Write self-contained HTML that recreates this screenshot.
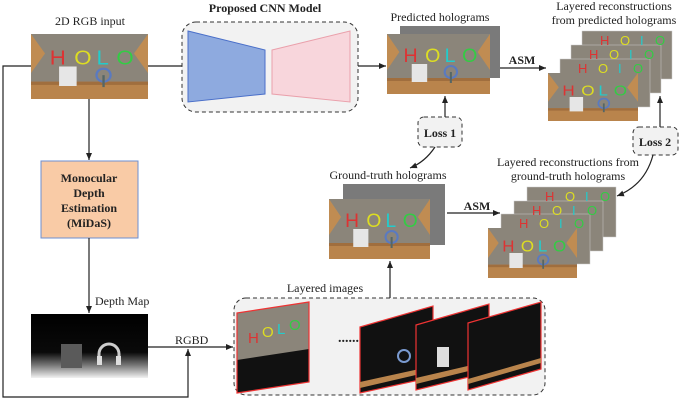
<!DOCTYPE html>
<html><head><meta charset="utf-8"><style>
html,body{margin:0;padding:0;background:#fff;}
svg{display:block;font-family:"Liberation Serif",serif;}
</style></head><body>
<svg width="685" height="405" viewBox="0 0 685 405" xmlns="http://www.w3.org/2000/svg">
<defs>
<marker id="ah" markerWidth="8" markerHeight="8" refX="7" refY="4" orient="auto" markerUnits="userSpaceOnUse">
<path d="M0,1 L7,4 L0,7 z" fill="#222"/></marker>
<linearGradient id="dg" x1="0" y1="0" x2="0" y2="1">
<stop offset="0" stop-color="#000"/><stop offset="0.6" stop-color="#0a0a0a"/><stop offset="0.8" stop-color="#777"/><stop offset="1" stop-color="#f2f2f2"/></linearGradient>
</defs>

<text x="90" y="25" font-size="12" text-anchor="middle" fill="#222">2D RGB input</text>
<text x="265" y="12" font-size="12" font-weight="bold" text-anchor="middle" fill="#222">Proposed CNN Model</text>
<text x="440" y="21" font-size="12" text-anchor="middle" fill="#222">Predicted holograms</text>
<text x="614" y="10" font-size="12" text-anchor="middle" fill="#222">Layered reconstructions</text>
<text x="614" y="24" font-size="12" text-anchor="middle" fill="#222">from predicted holograms</text>
<text x="388" y="179" font-size="12" text-anchor="middle" fill="#222">Ground-truth holograms</text>
<text x="568" y="166" font-size="12" text-anchor="middle" fill="#222">Layered reconstructions from</text>
<text x="568" y="180" font-size="12" text-anchor="middle" fill="#222">ground-truth holograms</text>
<text x="95" y="305" font-size="12" fill="#222">Depth Map</text>
<text x="175" y="344" font-size="12" fill="#222">RGBD</text>
<text x="325" y="292" font-size="12" text-anchor="middle" fill="#222">Layered images</text>
<text x="522" y="64" font-size="12" font-weight="bold" text-anchor="middle" fill="#222">ASM</text>
<text x="477" y="210" font-size="12" font-weight="bold" text-anchor="middle" fill="#222">ASM</text>

<rect x="182" y="22" width="176" height="90" rx="14" fill="#f2f2f2" stroke="#333" stroke-dasharray="4,3"/>
<polygon points="188,31 265,50 265,94 188,102" fill="#8eaadf" stroke="#4a6fc9"/>
<polygon points="272,50 350,31 350,102 272,94" fill="#f8d6dc" stroke="#eaa0ab"/>

<rect x="418" y="117" width="44" height="30" rx="6" fill="#f2f2f2" stroke="#333" stroke-dasharray="4,3"/>
<text x="440" y="137" font-size="12" font-weight="bold" text-anchor="middle" fill="#222">Loss 1</text>
<rect x="633" y="127" width="45" height="28" rx="6" fill="#f2f2f2" stroke="#333" stroke-dasharray="4,3"/>
<text x="655" y="146" font-size="12" font-weight="bold" text-anchor="middle" fill="#222">Loss 2</text>

<rect x="41" y="161" width="97" height="77" fill="#f9cba6" stroke="#6d8fd0"/>
<g font-size="12" font-weight="bold" text-anchor="middle" fill="#222">
<text x="89" y="182">Monocular</text><text x="89" y="197">Depth</text>
<text x="89" y="212">Estimation</text><text x="89" y="227">(MiDaS)</text></g>

<rect x="234" y="298" width="311" height="97" rx="12" fill="#f2f2f2" stroke="#333" stroke-dasharray="4,3"/>

<g stroke="#222" stroke-width="1.2" fill="none">
<line x1="148" y1="66" x2="182" y2="66"/>
<line x1="358" y1="66" x2="386" y2="66" marker-end="url(#ah)"/>
<line x1="500" y1="68" x2="546" y2="68" marker-end="url(#ah)"/>
<line x1="445" y1="117" x2="445" y2="96" marker-end="url(#ah)"/>
<path d="M435,147 Q425,162 410,168" marker-end="url(#ah)"/>
<line x1="660" y1="127" x2="660" y2="96" marker-end="url(#ah)"/>
<path d="M653,155 Q645,185 617,196" marker-end="url(#ah)"/>
<line x1="447" y1="213" x2="500" y2="213" marker-end="url(#ah)"/>
<line x1="89" y1="99" x2="89" y2="160" marker-end="url(#ah)"/>
<line x1="89" y1="238" x2="89" y2="313" marker-end="url(#ah)"/>
<line x1="148" y1="347" x2="233" y2="347" marker-end="url(#ah)"/>
<polyline points="31,66 3,66 3,397 188,397 188,349" marker-end="url(#ah)"/>
<line x1="390" y1="298" x2="390" y2="261" marker-end="url(#ah)"/>
</g>

<rect x="400" y="26" width="100" height="52" fill="#7a7a7a"/>
<rect x="343" y="184" width="102" height="61" fill="#7a7a7a"/>

<svg x="31" y="34" width="117" height="65" viewBox="0 0 100 60" preserveAspectRatio="none">
<rect width="100" height="60" fill="#8b857a"/><polygon points="0,0 12,18 0,36" fill="#c08c52"/><polygon points="100,0 88,18 100,36" fill="#c08c52"/>
<rect y="44" width="100" height="16" fill="#b9844c"/><rect y="44" width="100" height="3" fill="#a06e3e"/>
<g font-family="Liberation Sans,sans-serif" font-size="19"><text x="16" y="28" fill="#d33">H</text><text x="37" y="28" fill="#dd2">O</text><text x="56" y="28" fill="#2cc">L</text><text x="73" y="28" fill="#3c4">O</text></g>
<rect x="24" y="30" width="15" height="18" fill="#e6e6e6"/><circle cx="62" cy="38" r="6" fill="none" stroke="#5a7ac0" stroke-width="2"/><rect x="61" y="38" width="2" height="11" fill="#566"/></svg>

<svg x="387" y="34" width="103" height="60" viewBox="0 0 100 60" preserveAspectRatio="none">
<rect width="100" height="60" fill="#8b857a"/><polygon points="0,0 12,18 0,36" fill="#c08c52"/><polygon points="100,0 88,18 100,36" fill="#c08c52"/>
<rect y="44" width="100" height="16" fill="#b9844c"/><rect y="44" width="100" height="3" fill="#a06e3e"/>
<g font-family="Liberation Sans,sans-serif" font-size="19"><text x="16" y="28" fill="#d33">H</text><text x="37" y="28" fill="#dd2">O</text><text x="56" y="28" fill="#2cc">L</text><text x="73" y="28" fill="#3c4">O</text></g>
<rect x="24" y="30" width="15" height="18" fill="#e6e6e6"/><circle cx="62" cy="38" r="6" fill="none" stroke="#5a7ac0" stroke-width="2"/><rect x="61" y="38" width="2" height="11" fill="#566"/></svg>

<svg x="329" y="199" width="101" height="60" viewBox="0 0 100 60" preserveAspectRatio="none">
<rect width="100" height="60" fill="#8b857a"/><polygon points="0,0 12,18 0,36" fill="#c08c52"/><polygon points="100,0 88,18 100,36" fill="#c08c52"/>
<rect y="44" width="100" height="16" fill="#b9844c"/><rect y="44" width="100" height="3" fill="#a06e3e"/>
<g font-family="Liberation Sans,sans-serif" font-size="19"><text x="16" y="28" fill="#d33">H</text><text x="37" y="28" fill="#dd2">O</text><text x="56" y="28" fill="#2cc">L</text><text x="73" y="28" fill="#3c4">O</text></g>
<rect x="24" y="30" width="15" height="18" fill="#e6e6e6"/><circle cx="62" cy="38" r="6" fill="none" stroke="#5a7ac0" stroke-width="2"/><rect x="61" y="38" width="2" height="11" fill="#566"/></svg>

<g stroke="#ccc" stroke-width="0.5">
<rect x="582" y="31" width="90" height="48" fill="#8b857a"/>
<rect x="571" y="45" width="90" height="48" fill="#8b857a"/>
<rect x="560" y="59" width="90" height="48" fill="#8b857a"/>
<rect x="527" y="187" width="89" height="50" fill="#8b857a"/>
<rect x="514" y="201" width="89" height="50" fill="#8b857a"/>
<rect x="501" y="214" width="89" height="50" fill="#8b857a"/>
</g>
<g font-family="Liberation Sans,sans-serif" font-size="13">
<text x="600" y="45" fill="#d33">H</text><text x="620" y="45" fill="#dd2">O</text><text x="640" y="45" fill="#2cc">I</text><text x="655" y="45" fill="#3c4">O</text>
<text x="589" y="59" fill="#d33">H</text><text x="609" y="59" fill="#dd2">O</text><text x="629" y="59" fill="#2cc">I</text><text x="644" y="59" fill="#3c4">O</text>
<text x="578" y="73" fill="#d33">H</text><text x="598" y="73" fill="#dd2">O</text><text x="618" y="73" fill="#2cc">I</text><text x="633" y="73" fill="#3c4">O</text>
<text x="545" y="201" fill="#d33">H</text><text x="565" y="201" fill="#dd2">O</text><text x="585" y="201" fill="#2cc">I</text><text x="600" y="201" fill="#3c4">O</text>
<text x="532" y="215" fill="#d33">H</text><text x="552" y="215" fill="#dd2">O</text><text x="572" y="215" fill="#2cc">I</text><text x="587" y="215" fill="#3c4">O</text>
<text x="519" y="228" fill="#d33">H</text><text x="539" y="228" fill="#dd2">O</text><text x="559" y="228" fill="#2cc">I</text><text x="574" y="228" fill="#3c4">O</text>
</g>
<svg x="548" y="73" width="90" height="48" viewBox="0 0 100 60" preserveAspectRatio="none">
<rect width="100" height="60" fill="#8b857a"/><polygon points="0,0 12,18 0,36" fill="#c08c52"/><polygon points="100,0 88,18 100,36" fill="#c08c52"/>
<rect y="44" width="100" height="16" fill="#b9844c"/><rect y="44" width="100" height="3" fill="#a06e3e"/>
<g font-family="Liberation Sans,sans-serif" font-size="19"><text x="16" y="28" fill="#d33">H</text><text x="37" y="28" fill="#dd2">O</text><text x="56" y="28" fill="#2cc">L</text><text x="73" y="28" fill="#3c4">O</text></g>
<rect x="24" y="30" width="15" height="18" fill="#e6e6e6"/><circle cx="62" cy="38" r="6" fill="none" stroke="#5a7ac0" stroke-width="2"/><rect x="61" y="38" width="2" height="11" fill="#566"/></svg>
<svg x="488" y="228" width="89" height="50" viewBox="0 0 100 60" preserveAspectRatio="none">
<rect width="100" height="60" fill="#8b857a"/><polygon points="0,0 12,18 0,36" fill="#c08c52"/><polygon points="100,0 88,18 100,36" fill="#c08c52"/>
<rect y="44" width="100" height="16" fill="#b9844c"/><rect y="44" width="100" height="3" fill="#a06e3e"/>
<g font-family="Liberation Sans,sans-serif" font-size="19"><text x="16" y="28" fill="#d33">H</text><text x="37" y="28" fill="#dd2">O</text><text x="56" y="28" fill="#2cc">L</text><text x="73" y="28" fill="#3c4">O</text></g>
<rect x="24" y="30" width="15" height="18" fill="#e6e6e6"/><circle cx="62" cy="38" r="6" fill="none" stroke="#5a7ac0" stroke-width="2"/><rect x="61" y="38" width="2" height="11" fill="#566"/></svg>

<rect x="31" y="314" width="117" height="64" fill="url(#dg)"/>
<rect x="61" y="344" width="21" height="24" fill="#5a5a5a"/>
<path d="M99,364 L99,354 A10,10 0 0 1 119,354 L119,364" fill="none" stroke="#ccc" stroke-width="3"/>
<rect x="97" y="356" width="5" height="9" fill="#ddd"/><rect x="116" y="356" width="5" height="9" fill="#ddd"/>

<polygon points="237,313 309,302 309,382 237,393" fill="#8b857a"/>
<polygon points="237,360 309,349 309,382 237,393" fill="#111"/>
<polygon points="237,313 309,302 309,382 237,393" fill="none" stroke="#e33" stroke-width="1.2"/>
<g font-family="Liberation Sans,sans-serif" font-size="15"><text x="248" y="343" fill="#d33">H</text><text x="262" y="337" fill="#dd2">O</text><text x="277" y="334" fill="#2cc">L</text><text x="289" y="330" fill="#3c4">O</text></g>
<text x="338" y="342" font-size="14" font-weight="bold" fill="#222">......</text>
<polygon points="360,327 433,306 433,377 360,393" fill="#111" stroke="#e33" stroke-width="1.2"/>
<polygon points="360,382 433,366 433,371 360,388" fill="#b9844c"/>
<circle cx="404" cy="356" r="6" fill="none" stroke="#7a9ad0" stroke-width="2"/>
<polygon points="416,325 489,304 489,372 416,390" fill="#111" stroke="#e33" stroke-width="1.2"/>
<polygon points="416,378 489,361 489,366 416,384" fill="#b9844c"/>
<rect x="437" y="347" width="12" height="20" fill="#ddd"/>
<polygon points="468,323 541,302 541,369 468,390" fill="#111" stroke="#e33" stroke-width="1.2"/>
<polygon points="468,379 541,358 541,363 468,384" fill="#b9844c"/>
</svg>
</body></html>
